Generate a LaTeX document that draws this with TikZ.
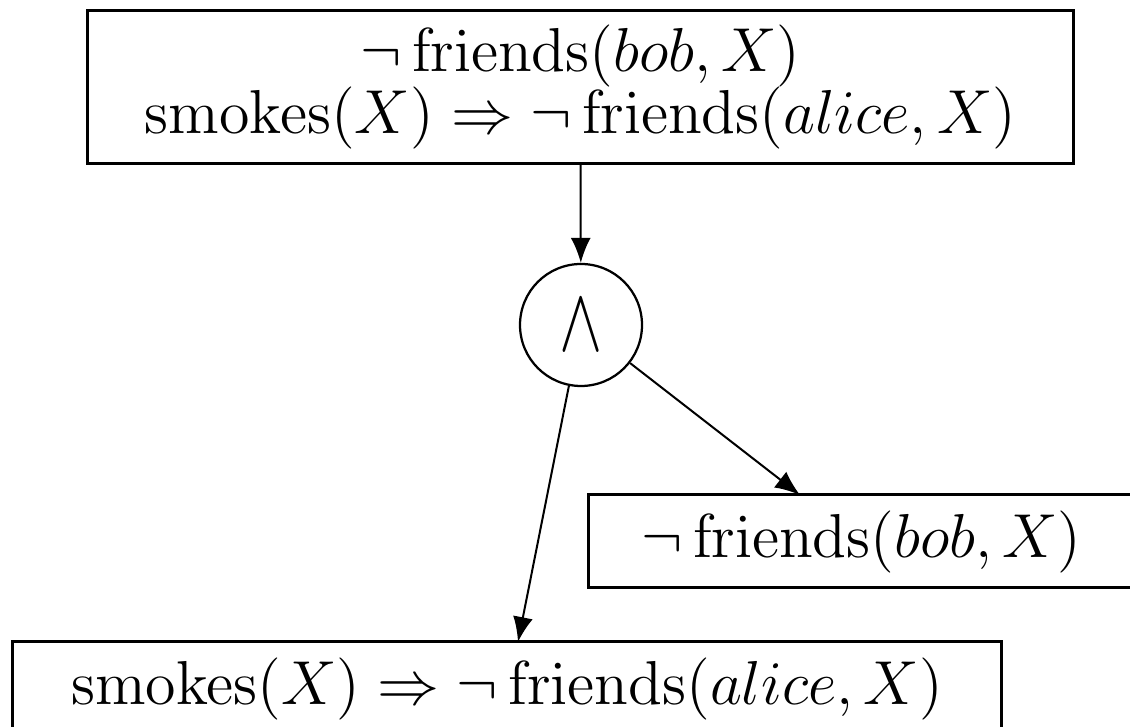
\documentclass[tikz,border=0pt]{standalone}
\usetikzlibrary{arrows.meta}
\newcommand{\sxtext}[1]{\scalebox{1.035}{#1}}
\newcommand{\boxfont}{\fontsize{12}{12.3}\selectfont\lineskiplimit -3pt\relax}
\begin{document}
\begin{tikzpicture}[x=0.2pt,y=-0.2pt,
  box/.style={draw,line width=0.6pt,rectangle,inner sep=0pt,align=center,font=\boxfont},
  opnode/.style={draw,line width=0.45pt,circle,inner sep=0pt,minimum size=24.4pt},
  conn/.style={line width=0.4pt,-{Latex[length=5pt,width=4pt]}}]
\useasboundingbox (0,0) rectangle (1130,727);
\node[box,minimum width=197pt,minimum height=30.6pt] (top) at (580.5,87)
  {\sxtext{$\neg\,\mathrm{friends}(bob,X)$}\\ \sxtext{$\mathrm{smokes}(X)\Rightarrow\neg\,\mathrm{friends}(alice,X)$}};
\node[opnode] (and) at (581,325) {\fontsize{17.28}{20}\selectfont\scalebox{0.75}[1.05]{$\wedge$}};
\node[box,minimum width=109.4pt,minimum height=18.6pt] (rbox) at (861.5,541.5)
  {\sxtext{$\neg\,\mathrm{friends}(bob,X)$}};
\node[box,minimum width=197.8pt,minimum height=19pt] (bbox) at (507,689)
  {\sxtext{$\mathrm{smokes}(X)\Rightarrow\neg\,\mathrm{friends}(alice,X)$}};
\coordinate (rt) at (800,495);
\coordinate (bt) at (518,642);
\draw[conn] (top.south) -- (and);
\draw[conn] (and) -- (rt);
\draw[conn] (and) -- (bt);
\end{tikzpicture}
\end{document}
